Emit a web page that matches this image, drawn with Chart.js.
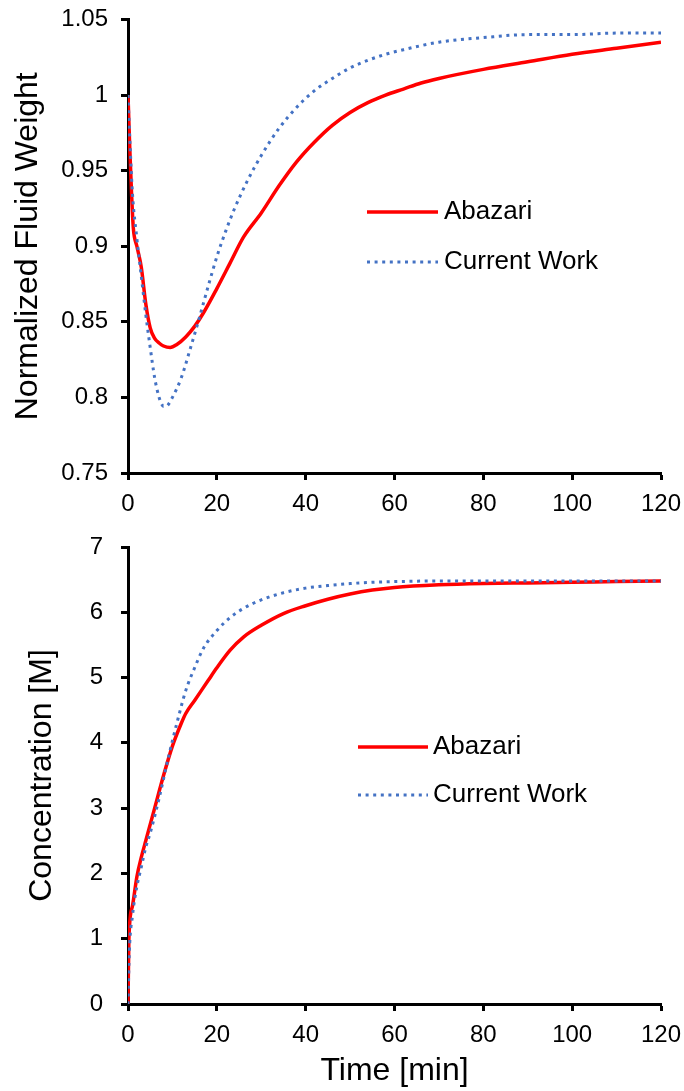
<!DOCTYPE html>
<html>
<head>
<meta charset="utf-8">
<script src="https://cdn.jsdelivr.net/npm/chart.js@4.4.1/dist/chart.umd.min.js"></script>
<style>
  html, body { margin: 0; padding: 0; background: #fff; }
  #wrap { position: relative; width: 684px; height: 1091px; }
  canvas { position: absolute; left: 0; }
  #weightChart { top: 0; }
  #concChart { top: 520px; }
</style>
</head>
<body>
<div id="wrap">
  <canvas id="weightChart" width="684" height="520"></canvas>
  <canvas id="concChart" width="684" height="571"></canvas>
</div>
<script>
/* ========================================= */
/* Data                  */
/* ========================================= */
const timeTicks = [0, 20, 40, 60, 80, 100, 120];
const weightTicks = [0.75, 0.8, 0.85, 0.9, 0.95, 1, 1.05];
const concTicks = [0, 1, 2, 3, 4, 5, 6, 7];

// top panel - normalized fluid weight
const weightTimeAbazari = [0, 0.4, 0.8, 1.2, 2, 3, 4, 5, 6, 7, 8, 9.5, 11, 13, 15, 17, 20, 23, 26, 30, 34, 38, 42, 46, 50, 54, 58, 62, 66, 70, 80, 90, 100, 110, 120];
const weightAbazari = [1.0, 0.965, 0.935, 0.912, 0.9, 0.886, 0.862, 0.846, 0.839, 0.836, 0.834, 0.833, 0.835, 0.84, 0.847, 0.856, 0.872, 0.889, 0.906, 0.922, 0.94, 0.956, 0.969, 0.98, 0.9885, 0.995, 1.0, 1.004, 1.008, 1.011, 1.017, 1.022, 1.027, 1.031, 1.035];

const weightTimeCurrent = [0, 0.5, 1, 2, 3, 4, 5, 6, 7, 7.5, 8, 8.5, 9, 10, 12, 14, 16, 18, 20, 22, 24, 27, 30, 34, 38, 42, 46, 50, 54, 58, 62, 70, 80, 90, 100, 110, 120];
const weightCurrent = [1.0, 0.965, 0.935, 0.905, 0.88, 0.855, 0.833, 0.813, 0.8, 0.796, 0.794, 0.794, 0.795, 0.8, 0.813, 0.832, 0.852, 0.873, 0.893, 0.91, 0.925, 0.944, 0.96, 0.978, 0.992, 1.003, 1.011, 1.018, 1.023, 1.027, 1.03, 1.035, 1.038, 1.04, 1.04, 1.041, 1.041];

// bottom panel - concentration
const concTimeAbazari = [0, 0.2, 1, 2, 3, 4, 6, 8, 10, 12, 13, 15, 18, 20, 23, 26, 30, 35, 40, 45, 50, 55, 60, 70, 80, 90, 100, 110, 120];
const concAbazari = [0, 1.0, 1.5, 1.95, 2.25, 2.5, 3.0, 3.5, 3.95, 4.3, 4.45, 4.65, 4.95, 5.15, 5.42, 5.62, 5.8, 5.98, 6.1, 6.2, 6.28, 6.34, 6.38, 6.42, 6.44, 6.45, 6.46, 6.47, 6.48];

const concTimeCurrent = [0, 0.3, 1, 2, 3, 4, 5, 7, 9, 11, 13, 15, 17, 20, 23, 26, 30, 35, 40, 45, 50, 55, 60, 70, 80, 90, 100, 110, 120];
const concCurrent = [0, 0.8, 1.35, 1.8, 2.1, 2.4, 2.62, 3.15, 3.75, 4.3, 4.8, 5.15, 5.45, 5.72, 5.92, 6.06, 6.19, 6.3, 6.37, 6.41, 6.44, 6.46, 6.47, 6.48, 6.48, 6.48, 6.48, 6.48, 6.48];

const seriesLabels = ["Abazari", "Current Work"];

/* ========================================= */
/* Helpers                                   */
/* ========================================= */
const FONT = "'Liberation Sans', Arial, Helvetica, sans-serif";
const RED = "#ff0000";
const BLUE = "#4472c4";

const toPoints = (xs, ys) => xs.map((x, i) => ({ x: x, y: ys[i] }));

// legend drawn inside the plot area, as in the original figure
const insideLegend = {
  id: "insideLegend",
  afterDatasetsDraw(chart, args, opts) {
    const { ctx, chartArea } = chart;
    const x0 = chartArea.left + opts.dx;
    let y = chartArea.top + opts.dy;
    // Abazari first, like the figure
    [...chart.data.datasets]
      .sort((a, b) => a.legendIndex - b.legendIndex)
      .forEach((ds) => {
        ctx.save();
        ctx.strokeStyle = ds.borderColor;
        ctx.lineWidth = ds.borderWidth;
        ctx.setLineDash(ds.borderDash || []);
        ctx.beginPath();
        ctx.moveTo(x0, y);
        ctx.lineTo(x0 + opts.sample, y);
        ctx.stroke();
        ctx.setLineDash([]);
        ctx.fillStyle = "#000";
        ctx.font = "26px " + FONT;
        ctx.textBaseline = "middle";
        ctx.fillText(ds.label, x0 + opts.sample + opts.gap, y);
        ctx.restore();
        y += opts.row;
      });
  },
};

function axisStyle(extra) {
  return Object.assign(
    {
      type: "linear",
      grid: {
        display: true,
        drawOnChartArea: false,
        drawTicks: true,
        tickLength: 7,
        tickWidth: 3,
        tickColor: "#000",
      },
      border: { display: true, color: "#000", width: 3 },
    },
    extra
  );
}

function makeChart(canvas, cfg) {
  return new Chart(canvas.getContext("2d"), {
    type: "line",
    data: {
      datasets: [
        {
          label: seriesLabels[1],
          data: cfg.current,
          borderColor: BLUE,
          borderWidth: 3,
          borderDash: [3, 4.6],
          legendIndex: 1,
          order: 0,
        },
        {
          label: seriesLabels[0],
          data: cfg.abazari,
          borderColor: RED,
          borderWidth: 3.5,
          legendIndex: 0,
          order: 1,
        },
      ],
    },
    options: {
      responsive: false,
      devicePixelRatio: 1,
      animation: false,
      layout: { padding: { top: cfg.padTop, right: 23, bottom: 0, left: 0 } },
      elements: {
        point: { radius: 0 },
        line: { cubicInterpolationMode: "monotone", fill: false },
      },
      plugins: {
        legend: { display: false },
        tooltip: { enabled: false },
        insideLegend: cfg.legend,
      },
      scales: {
        x: axisStyle({
          min: 0,
          max: 120,
          afterBuildTicks: (s) => { s.ticks = timeTicks.map((v) => ({ value: v })); },
          afterFit: (s) => {
            s.height = cfg.xHeight;
            // the right margin is set by layout padding only
            s.paddingLeft = 0;
            s.paddingRight = 0;
          },
          ticks: { color: "#000", padding: 10, maxRotation: 0, font: { family: FONT, size: 24 } },
          title: {
            display: !!cfg.xTitle,
            text: cfg.xTitle || "",
            color: "#000",
            font: { family: FONT, size: 32 },
            padding: { top: 0, bottom: 1 },
          },
        }),
        y: axisStyle({
          min: cfg.yTicks[0],
          max: cfg.yTicks[cfg.yTicks.length - 1],
          afterBuildTicks: (s) => { s.ticks = cfg.yTicks.map((v) => ({ value: v })); },
          afterFit: (s) => {
            s.width = 128;
            s.paddingTop = 0;
            s.paddingBottom = 0;
          },
          ticks: {
            color: "#000",
            padding: cfg.yTickPad,
            font: { family: FONT, size: 24 },
            callback: (v) => String(v),
          },
          title: {
            display: true,
            text: cfg.yTitle,
            color: "#000",
            font: { family: FONT, size: 32 },
            padding: { top: cfg.yTitlePad, bottom: 0 },
          },
        }),
      },
    },
    plugins: [insideLegend],
  });
}

/* ========================================= */
/* Charts                                    */
/* ========================================= */
document.addEventListener("DOMContentLoaded", () => {
  makeChart(document.getElementById("weightChart"), {
    abazari: toPoints(weightTimeAbazari, weightAbazari),
    current: toPoints(weightTimeCurrent, weightCurrent),
    yTicks: weightTicks,
    yTitle: "Normalized Fluid Weight",
    yTitlePad: 9,
    yTickPad: 13,
    padTop: 19.5,
    xHeight: 47,
    legend: { dx: 239, dy: 192.5, sample: 71, gap: 6, row: 50 },
  });

  makeChart(document.getElementById("concChart"), {
    abazari: toPoints(concTimeAbazari, concAbazari),
    current: toPoints(concTimeCurrent, concCurrent),
    yTicks: concTicks,
    yTitle: "Concentration [M]",
    yTitlePad: 23,
    yTickPad: 18,
    padTop: 27,
    xHeight: 87,
    xTitle: "Time [min]",
    legend: { dx: 230, dy: 200, sample: 70, gap: 5, row: 48 },
  });
});
</script>
</body>
</html>
